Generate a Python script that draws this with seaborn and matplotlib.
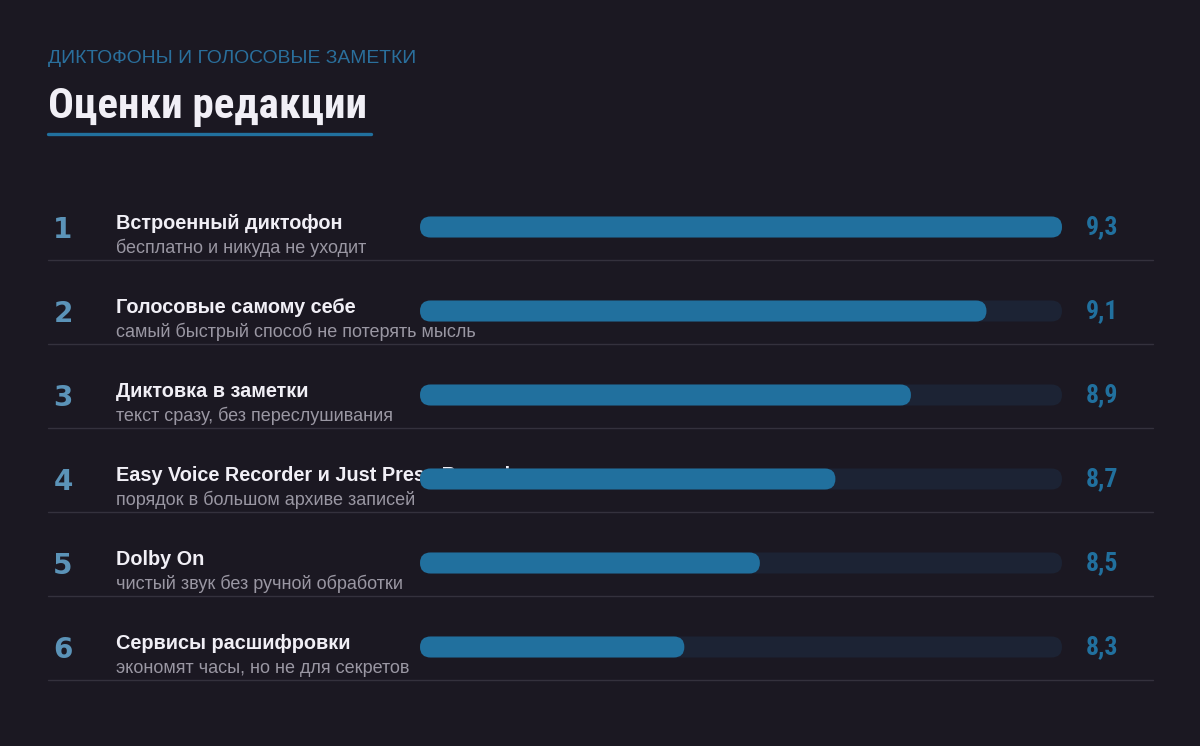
import matplotlib
matplotlib.use("Agg")
import matplotlib.pyplot as plt
import matplotlib.transforms as mtransforms
from matplotlib.lines import Line2D
from matplotlib.patches import FancyBboxPatch
import pandas as pd
import seaborn as sns

# --- data ---
KICKER = "ДИКТОФОНЫ И ГОЛОСОВЫЕ ЗАМЕТКИ"
TITLE = "Оценки редакции"
ranks = [1, 2, 3, 4, 5, 6]
names = [
    "Встроенный диктофон",
    "Голосовые самому себе",
    "Диктовка в заметки",
    "Easy Voice Recorder и Just Press Record",
    "Dolby On",
    "Сервисы расшифровки",
]
notes = [
    "бесплатно и никуда не уходит",
    "самый быстрый способ не потерять мысль",
    "текст сразу, без переслушивания",
    "порядок в большом архиве записей",
    "чистый звук без ручной обработки",
    "экономят часы, но не для секретов",
]
scores = [9.3, 9.1, 8.9, 8.7, 8.5, 8.3]
SCALE_MIN, SCALE_MAX = 7.6, 9.3

# --- style ---
BG = "#1b1822"
FILL = "#21709e"
TRACK = "#1c2334"
KICKER_C = "#2a6f9c"
RANK_C = "#5b93b8"
NAME_C = "#f1eff6"
NOTE_C = "#9a97a3"
SEP_C = "#34313d"
NARROW = ["Liberation Sans Narrow", "Roboto Condensed", "Liberation Sans"]

sns.set_theme(style="dark", rc={"figure.facecolor": BG, "axes.facecolor": BG,
                                "savefig.facecolor": BG})
plt.rcParams["font.family"] = ["Liberation Sans", "DejaVu Sans"]

W, H = 1200, 746
fig = plt.figure(figsize=(W / 100, H / 100), dpi=100)

# bar area: x 420..1062 px, rows of 84 px starting at y=185
ax = fig.add_axes([420 / W, 1 - 689 / H, 642 / W, 504 / H])
ax.patch.set_alpha(0)

df = pd.DataFrame({"rank": ranks, "name": names, "note": notes, "score": scores})
df["track"] = SCALE_MAX

sns.barplot(data=df, x="track", y="name", orient="h", color=TRACK,
            saturation=1, width=0.25, ax=ax)
sns.barplot(data=df, x="score", y="name", orient="h", color=FILL,
            saturation=1, width=0.25, ax=ax)
ax.set_xlim(SCALE_MIN, SCALE_MAX)
ax.set_ylim(len(df) - 0.5, -0.5)
ax.axis("off")

# turn the rectangles into pills
pxx = abs(ax.transData.transform((1, 0))[0] - ax.transData.transform((0, 0))[0])
pxy = abs(ax.transData.transform((0, 1))[1] - ax.transData.transform((0, 0))[1])
m = pxx / pxy
for p in list(ax.patches):
    x, y, w, h = p.get_x(), p.get_y(), p.get_width(), p.get_height()
    color = p.get_facecolor()
    z = p.get_zorder()
    p.remove()
    left = max(x, SCALE_MIN)
    pill = FancyBboxPatch((left, y), x + w - left, h,
                          boxstyle=f"round,pad=0,rounding_size={h / m / 2}",
                          mutation_aspect=m, facecolor=color, edgecolor="none",
                          zorder=z, clip_on=False)
    ax.add_patch(pill)

# row texts: x in figure px, y in data rows
row = mtransforms.blended_transform_factory(fig.transFigure, ax.transData)
for i, r in df.iterrows():
    ax.text(63 / W, i + 0.131, str(r["rank"]), transform=row, ha="center",
            va="baseline", fontsize=20, fontweight="heavy", color=RANK_C,
            family=["DejaVu Sans"], clip_on=False)
    ax.text(116 / W, i + 0.024, r["name"], transform=row, ha="left",
            va="baseline", fontsize=14.3, fontweight="bold", color=NAME_C,
            clip_on=False, zorder=0.5)
    ax.text(116 / W, i + 0.31, r["note"], transform=row, ha="left",
            va="baseline", fontsize=13, color=NOTE_C, clip_on=False, zorder=0.5)
    ax.text(1086 / W, i + 0.083, f"{r['score']:.1f}".replace(".", ","),
            transform=row, ha="left", va="baseline", fontsize=18.5,
            fontweight="bold", color=FILL, family=NARROW, clip_on=False)
    ax.plot([48 / W, 1153 / W], [i + 0.393, i + 0.393], transform=row,
            color=SEP_C, lw=1, clip_on=False, zorder=0.4)

# header
fig.text(48 / W, 1 - 63 / H, KICKER, ha="left", va="baseline", fontsize=13.9,
         color=KICKER_C)
title = fig.text(48 / W, 1 - 118 / H, TITLE, ha="left", va="baseline",
                 fontsize=31, fontweight="bold", color=NAME_C, family=NARROW)
fig.canvas.draw()
bb = title.get_window_extent().transformed(fig.transFigure.inverted())
fig.add_artist(Line2D([48 / W, bb.x1 + 4 / W], [1 - 134 / H, 1 - 134 / H],
                      color=FILL, lw=2.4, transform=fig.transFigure))

fig.savefig("out.png", dpi=100, facecolor=BG)
